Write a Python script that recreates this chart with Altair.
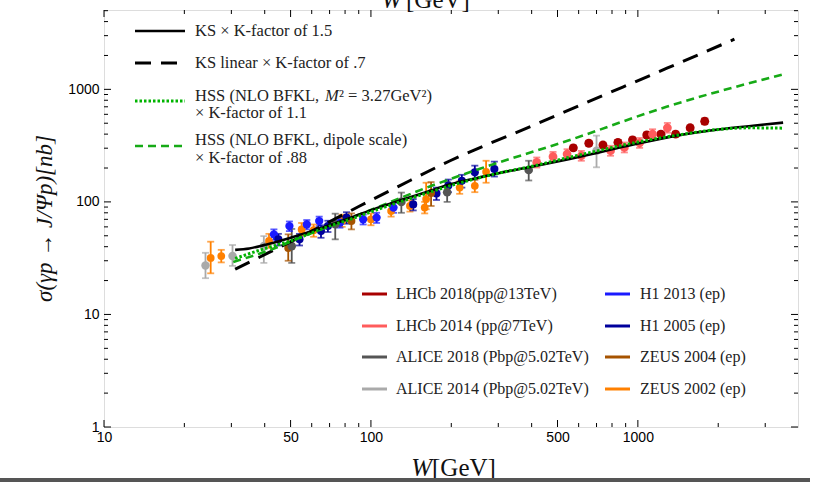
import altair as alt
import pandas as pd

# ---------------- data ----------------
set_names = ["LHCb 2018(pp@13TeV)", "LHCb 2014 (pp@7TeV)", "ALICE 2018 (Pbp@5.02TeV)",
             "ALICE 2014 (Pbp@5.02TeV)", "H1 2013 (ep)", "H1 2005 (ep)",
             "ZEUS 2004 (ep)", "ZEUS 2002 (ep)"]
set_colors = ["#a80000", "#ff5c5c", "#555555", "#aaaaaa", "#1a1aff", "#00009c", "#a65300", "#ff8000"]
set_sizes = [80, 60, 60, 60, 55, 55, 60, 60]

zeus02_W = [25.1, 27.5, 41.5, 55, 61, 78, 100, 119, 140, 159, 161, 215, 245, 270]
zeus02_s = [31.8, 33, 45, 57, 56, 67.6, 70, 83, 92, 89, 106, 134, 139, 185]
zeus02_lo = [23.2, 29, 39, 50, 49, 60, 62, 74, 82, 79, 86, 118, 122, 148]
zeus02_hi = [44.3, 37.5, 52, 65, 63, 77, 79, 93, 103, 100, 148, 152, 158, 232]

zeus04_W = [49, 84.5, 168]
zeus04_s = [39, 67.6, 120]
zeus04_lo = [30, 57, 92]
zeus04_hi = [51.5, 79, 150]

h1_13_W = [43.3, 49.5, 57.5, 64, 76.5, 93.5, 105, 121.5]
h1_13_s = [51.5, 61, 63, 67.6, 65.3, 70, 72.5, 89]
h1_13_lo = [46, 55, 57, 61, 59, 63, 65, 80]
h1_13_hi = [57, 67, 69, 74, 72, 77, 80, 98]

h1_05_W = [45, 54, 65, 69, 81, 144, 176, 195, 219, 245, 290]
h1_05_s = [46.5, 46.5, 55, 61, 72.5, 95, 119, 140, 154, 183, 196]
h1_05_lo = [41, 41, 48, 54, 64, 84, 104, 122, 134, 158, 168]
h1_05_hi = [52, 52, 62, 68, 81, 106, 134, 158, 174, 210, 228]

alice18_W = [50.5, 73.5, 130, 193, 390]
alice18_s = [40.5, 63.3, 100, 122, 192]
alice18_lo = [28.7, 46.5, 80, 100, 155]
alice18_hi = [57.5, 78.6, 121, 150, 232]

alice14_W = [24, 30.3, 39.7, 700]
alice14_s = [27.2, 33, 40.5, 285]
alice14_lo = [21, 27, 28.7, 203]
alice14_hi = [35.3, 41.4, 49.7, 388]

lhcb14_W = [418, 481, 543, 614, 790, 890, 1015, 1135, 1290]
lhcb14_s = [224, 252, 266, 257, 285, 305, 335, 400, 455]
lhcb14_lo = [202, 228, 240, 232, 257, 275, 302, 362, 412]
lhcb14_hi = [248, 278, 294, 284, 315, 337, 370, 442, 503]

lhcb18_W = [573, 655, 740, 842, 955, 1080, 1220, 1385, 1570, 1780]
lhcb18_s = [302, 332, 320, 338, 355, 393, 400, 400, 455, 520]
lhcb18_lo = [288, 316, 305, 322, 338, 374, 381, 381, 433, 490]
lhcb18_hi = [317, 349, 336, 355, 373, 413, 420, 420, 478, 552]

ks_W = [31, 35, 40, 45, 50, 60, 70, 85, 105, 130, 166, 200, 250, 300, 400, 550, 700, 1000, 1400, 2000, 2700, 3500]
ks_s = [37.5, 38.6, 41.5, 44.5, 48, 55, 62, 73, 88, 104, 125, 144, 163, 180, 205, 240, 272, 330, 388, 440, 475, 506]

kslin_W = [31, 41, 60, 90, 128, 198, 404, 644, 1285, 2300]
kslin_s = [25.2, 35, 55, 91, 139, 232, 477, 766, 1540, 2790]

hssdip_W = [30.5, 40.7, 60, 100, 166, 256, 556, 1280, 3500]
hssdip_s = [29.3, 36.5, 53, 85, 137, 197, 355, 700, 1360]

hssm_W = [31, 40, 50, 66, 85, 105, 130, 166, 200, 300, 400, 550, 700, 1000, 1440, 2000, 2600, 3500]
hssm_s = [31.4, 38.5, 45, 58, 71, 85, 101, 122, 140, 180, 207, 248, 283, 340, 395, 440, 455, 452]

x_major = [10, 50, 100, 500, 1000]
x_minor = [20, 30, 40, 60, 70, 80, 90, 200, 300, 400, 600, 700, 800, 900, 2000, 3000]
y_major = [1, 10, 100, 1000]
y_minor = [2, 3, 4, 5, 6, 7, 8, 9, 20, 30, 40, 50, 60, 70, 80, 90,
           200, 300, 400, 500, 600, 700, 800, 900, 2000, 3000, 4000, 5000]

top_legend = ["KS \u00d7 K-factor of 1.5", "KS linear \u00d7 K-factor of .7",
              "HSS (NLO BFKL,", "M", "\u00b2  =  3.27GeV\u00b2)", "\u00d7 K-factor of 1.1",
              "HSS (NLO BFKL, dipole scale)", "\u00d7 K-factor of .88"]

# ---------------- build tables ----------------
series = [
    (set_names[0], lhcb18_W, lhcb18_s, lhcb18_lo, lhcb18_hi),
    (set_names[1], lhcb14_W, lhcb14_s, lhcb14_lo, lhcb14_hi),
    (set_names[3], alice14_W, alice14_s, alice14_lo, alice14_hi),
    (set_names[7], zeus02_W, zeus02_s, zeus02_lo, zeus02_hi),
    (set_names[4], h1_13_W, h1_13_s, h1_13_lo, h1_13_hi),
    (set_names[5], h1_05_W, h1_05_s, h1_05_lo, h1_05_hi),
    (set_names[6], zeus04_W, zeus04_s, zeus04_lo, zeus04_hi),
    (set_names[2], alice18_W, alice18_s, alice18_lo, alice18_hi),
]
rows = []
for k, (nm, W, s, lo, hi) in enumerate(series):
    for i in range(len(W)):
        rows.append({"set": nm, "W": W[i], "s": s[i], "lo": lo[i], "hi": hi[i], "ord": k})
pts = pd.DataFrame(rows)

PW, PH = 694, 417
SERIF = "Liberation Serif"
SANS = "Liberation Sans"

xs = alt.Scale(type="log", domain=[10, 3980], nice=False)
ys = alt.Scale(type="log", domain=[1, 5070], nice=False)
xaxis = alt.Axis(values=x_major, format="d", ticks=False, domain=False, grid=False, title=None,
                 labelFont=SANS, labelFontSize=14, labelColor="black", labelPadding=3,
                 labelFlush=False, labelOverlap=False)
yaxis = alt.Axis(values=y_major, format="d", ticks=False, domain=False, grid=False, title=None,
                 labelFont=SANS, labelFontSize=14, labelColor="black", labelPadding=5,
                 labelFlush=False, labelOverlap=False)
X = alt.X("W:Q", scale=xs, axis=xaxis)


def Y(f):
    return alt.Y(f + ":Q", scale=ys, axis=yaxis)


color = alt.Color("set:N", scale=alt.Scale(domain=set_names, range=set_colors), legend=None)
size = alt.Size("set:N", scale=alt.Scale(domain=set_names, range=set_sizes), legend=None)

base = alt.Chart(pts)
err = base.mark_rule(strokeWidth=1.8).encode(x=X, y=Y("lo"), y2="hi:Q", color=color)
cap_lo = base.mark_tick(orient="horizontal", size=7, thickness=1.8).encode(x=X, y=Y("lo"), color=color)
cap_hi = base.mark_tick(orient="horizontal", size=7, thickness=1.8).encode(x=X, y=Y("hi"), color=color)
dots = base.mark_circle(opacity=1).encode(x=X, y=Y("s"), color=color, size=size,
                                          order=alt.Order("ord:Q"))


def curve(W, s, **kw):
    df = pd.DataFrame({"W": W, "s": s})
    return alt.Chart(df).mark_line(interpolate="monotone", **kw).encode(x=X, y=Y("s"))


c_kslin = curve(kslin_W, kslin_s, color="black", strokeWidth=3, strokeDash=[16, 10])
c_hssdip = curve(hssdip_W, hssdip_s, color="#16aa16", strokeWidth=2.6, strokeDash=[8, 5])
c_ks = curve(ks_W, ks_s, color="black", strokeWidth=2.6)
c_hssm = curve(hssm_W, hssm_s, color="#00b400", strokeWidth=3, strokeDash=[2.5, 2])

# ---------------- frame ticks (inside) ----------------
def ticks_x(vals, ln):
    df = pd.DataFrame({"W": vals})
    b = alt.Chart(df).mark_rule(color="black", strokeWidth=1)
    return [b.encode(x=X, y=alt.value(PH), y2=alt.value(PH - ln)),
            b.encode(x=X, y=alt.value(0), y2=alt.value(ln))]


def ticks_y(vals, ln):
    df = pd.DataFrame({"s": vals})
    b = alt.Chart(df).mark_rule(color="black", strokeWidth=1)
    return [b.encode(y=Y("s"), x=alt.value(0), x2=alt.value(ln)),
            b.encode(y=Y("s"), x=alt.value(PW), x2=alt.value(PW - ln))]


tick_layers = ticks_x(x_major, 7) + ticks_x(x_minor, 4) + ticks_y(y_major, 7) + ticks_y(y_minor, 4)

# ---------------- manual legends & titles ----------------
one = pd.DataFrame({"a": [0]})


def hline(x1, x2, y, col, w, dash=None):
    kw = dict(color=col, strokeWidth=w)
    if dash:
        kw["strokeDash"] = dash
    return alt.Chart(one).mark_rule(**kw).encode(x=alt.value(x1), x2=alt.value(x2), y=alt.value(y))


def txt(t, x, y, size=16, font=SERIF, style="normal", align="left", col="#222222", angle=0, baseline="middle"):
    kw = dict(text=t, font=font, fontSize=size, fontStyle=style, align=align, color=col, baseline=baseline)
    if angle:
        kw["angle"] = angle
    return alt.Chart(one).mark_text(**kw).encode(x=alt.value(x), y=alt.value(y))


OX, OY = 104, 10  # plot origin in page pixels
TL = 16.5
leg = []
lx1, lx2, tx = 135 - OX, 185 - OX, 195 - OX
leg.append(hline(lx1, lx2, 31 - OY, "black", 2.6))
leg.append(txt(top_legend[0], tx, 31 - OY, size=TL))
leg.append(hline(lx1, lx2, 63 - OY, "black", 3, [16, 10]))
leg.append(txt(top_legend[1], tx, 63 - OY, size=TL))
leg.append(hline(lx1, lx2, 101 - OY, "#00b400", 3, [2.5, 2]))
leg.append(txt(top_legend[2], tx, 96 - OY, size=TL))
leg.append(txt(top_legend[3], 325 - OX, 96 - OY, size=TL, style="italic"))
leg.append(txt(top_legend[4], 339 - OX, 96 - OY, size=TL))
leg.append(txt(top_legend[5], tx, 113 - OY, size=TL))
leg.append(hline(lx1, lx2, 146 - OY, "#16aa16", 2.6, [8, 5]))
leg.append(txt(top_legend[6], tx, 140 - OY, size=TL))
leg.append(txt(top_legend[7], tx, 158 - OY, size=TL))

col_order = [(0, 362, 396, 294), (1, 362, 396, 326), (2, 362, 396, 357), (3, 362, 396, 389),
             (4, 605, 640, 294), (5, 605, 640, 326), (6, 605, 640, 357), (7, 605, 640, 389)]
for idx, x1, xt, yy in col_order:
    leg.append(hline(x1 - OX, x1 + 25 - OX, yy - OY, set_colors[idx], 3))
    leg.append(txt(set_names[idx], xt - OX, yy - OY))

titles = [
    txt("\u03c3(\u03b3p \u2192 J/\u03a8p)[nb]", 45 - OX, PH / 2, size=23, style="italic", align="center",
        col="#111111", angle=270),
    txt("W", 432 - OX, 476 - OY, size=25, style="italic", align="right", col="#111111", baseline="alphabetic"),
    txt("[GeV]", 432 - OX, 476 - OY, size=25, align="left", col="#111111", baseline="alphabetic"),
    txt("W", 402 - OX, 8 - OY, size=25, style="italic", align="right", col="#111111", baseline="alphabetic"),
    txt("[GeV]", 406 - OX, 8 - OY, size=25, align="left", col="#111111", baseline="alphabetic"),
    hline(0 - OX, 810 - OX, 480 - OY, "#555555", 4),
]

chart = alt.layer(
    err, cap_lo, cap_hi, dots,
    c_kslin, c_hssdip, c_ks, c_hssm,
    *tick_layers, *leg, *titles
).properties(
    width=PW, height=PH,
    autosize=alt.AutoSizeParams(type="none"),
    padding={"left": 104, "top": 10, "right": 19, "bottom": 55},
).configure_view(stroke="black", strokeWidth=1.2).configure(background="white")

chart.save("out.html", embed_options={"renderer": "svg", "actions": False})
